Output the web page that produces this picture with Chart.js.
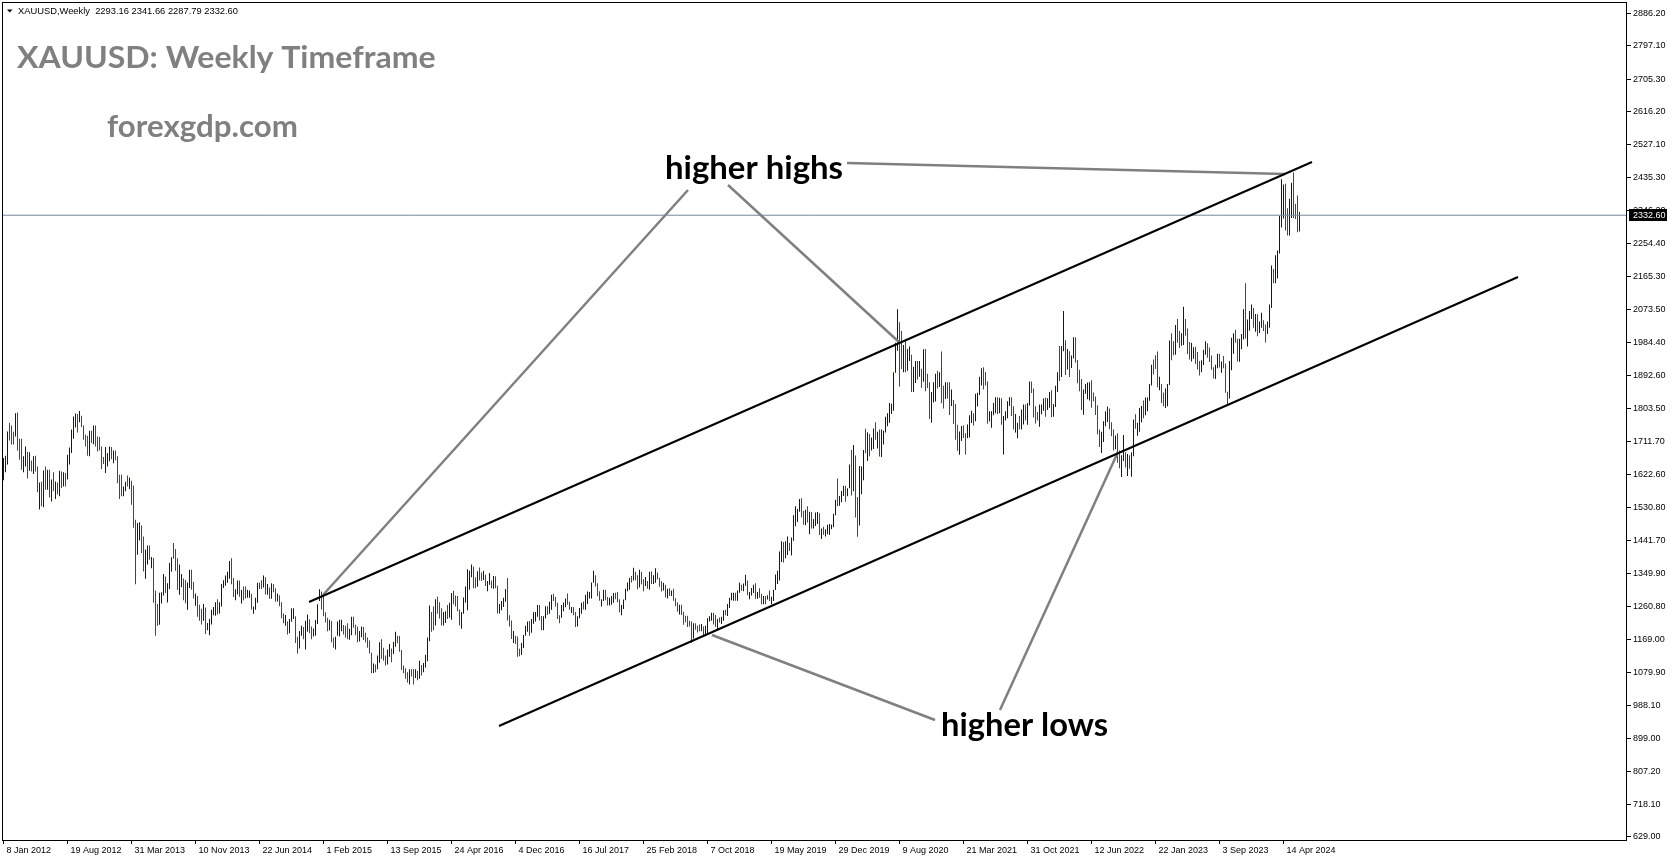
<!DOCTYPE html>
<html>
<head>
<meta charset="utf-8">
<title>XAUUSD Weekly</title>
<script src="https://cdn.jsdelivr.net/npm/chart.js@4.4.1/dist/chart.umd.min.js"></script>
<style>
    html, body { margin: 0; padding: 0; background: #fff; }
    #wrap { width: 1673px; height: 861px; }
</style>
</head>
<body>
<div id="wrap"><canvas id="goldChart" width="1673" height="861"></canvas></div>
<script>
// Weekly XAUUSD bars, first bar = week of 8 Jan 2012, one value per week
const barLows = [
    1606,1628,1649,1715,1704,1704,1726,1688,1662,1635,
    1628,1644,1611,1632,1630,1623,1630,1573,1526,1535,
    1532,1580,1580,1559,1548,1576,1555,1567,1562,1585,
    1589,1589,1608,1649,1681,1720,1751,1737,1765,1752,
    1717,1699,1673,1672,1708,1705,1699,1685,1688,1637,
    1651,1626,1644,1658,1664,1653,1661,1598,1555,1562,
    1562,1576,1589,1582,1539,1476,1321,1402,1441,1407,
    1356,1336,1375,1388,1365,1270,1180,1207,1210,1268,
    1290,1297,1271,1308,1355,1391,1358,1305,1292,1313,
    1277,1269,1251,1311,1306,1282,1262,1232,1221,1211,
    1221,1185,1195,1181,1211,1236,1235,1238,1241,1260,
    1311,1317,1325,1336,1321,1286,1277,1293,1287,1268,
    1277,1282,1284,1284,1252,1240,1251,1270,1308,1308,
    1312,1293,1292,1281,1281,1299,1273,1274,1261,1228,
    1214,1207,1183,1187,1218,1226,1160,1131,1145,1180,
    1170,1142,1191,1187,1170,1178,1180,1212,1275,1252,
    1233,1216,1192,1194,1162,1147,1142,1180,1178,1192,
    1183,1175,1170,1169,1181,1202,1181,1162,1164,1176,
    1168,1162,1147,1131,1077,1078,1080,1088,1106,1117,
    1111,1098,1101,1122,1107,1130,1150,1159,1136,1086,
    1077,1062,1052,1046,1068,1046,1064,1058,1062,1071,
    1080,1093,1110,1165,1191,1195,1208,1240,1227,1208,
    1208,1215,1226,1229,1224,1266,1260,1247,1208,1199,
    1240,1270,1250,1306,1340,1310,1310,1314,1331,1330,
    1333,1316,1302,1320,1310,1309,1310,1241,1241,1250,
    1259,1273,1222,1205,1171,1160,1157,1122,1124,1127,
    1146,1180,1191,1180,1188,1213,1219,1232,1222,1195,
    1195,1227,1237,1240,1251,1275,1260,1226,1214,1229,
    1247,1258,1265,1251,1242,1236,1204,1205,1228,1240,
    1252,1251,1267,1282,1282,1325,1315,1288,1276,1260,
    1275,1277,1263,1263,1265,1270,1280,1272,1244,1236,
    1253,1277,1302,1306,1326,1331,1332,1307,1312,1321,
    1302,1316,1309,1306,1322,1322,1325,1334,1314,1301,
    1304,1285,1282,1289,1289,1276,1261,1246,1238,1237,
    1210,1217,1204,1205,1160,1172,1196,1189,1192,1192,
    1180,1182,1183,1219,1221,1211,1204,1196,1216,1212,
    1221,1236,1234,1256,1277,1276,1276,1276,1298,1303,
    1302,1317,1291,1280,1290,1297,1281,1281,1284,1266,
    1266,1266,1279,1275,1266,1275,1305,1322,1331,1382,
    1381,1392,1401,1412,1400,1440,1480,1492,1520,1505,
    1484,1483,1490,1458,1474,1474,1481,1486,1456,1445,
    1457,1452,1458,1456,1472,1477,1510,1535,1536,1546,
    1563,1547,1562,1584,1564,1576,1504,1451,1482,1568,
    1606,1680,1659,1672,1688,1692,1717,1693,1671,1670,
    1704,1737,1754,1764,1788,1797,1901,1961,1863,1911,
    1902,1902,1906,1933,1848,1848,1873,1882,1890,1860,
    1876,1850,1859,1774,1764,1819,1822,1858,1862,1817,
    1803,1829,1830,1785,1810,1760,1717,1687,1676,1714,
    1722,1677,1721,1723,1763,1756,1768,1808,1840,1866,
    1855,1866,1761,1767,1750,1784,1790,1788,1790,1758,
    1677,1770,1776,1810,1782,1745,1737,1721,1746,1745,
    1759,1770,1758,1811,1845,1778,1762,1770,1753,1787,
    1797,1780,1799,1805,1779,1780,1807,1848,1878,1889,
    1960,1895,1910,1889,1914,1940,1929,1872,1850,1799,
    1786,1843,1828,1825,1805,1823,1785,1732,1697,1681,
    1711,1754,1766,1746,1727,1688,1691,1654,1639,1615,
    1659,1641,1618,1638,1616,1672,1747,1728,1739,1765,
    1776,1784,1795,1824,1866,1896,1911,1861,1853,1818,
    1809,1804,1809,1867,1935,1949,1950,1983,1969,1975,
    1977,2002,1952,1937,1932,1939,1925,1910,1893,1902,
    1922,1950,1942,1930,1909,1885,1884,1913,1915,1901,
    1913,1846,1810,1830,1908,1953,1983,1932,1931,1965,
    1992,1995,1973,2016,2048,2024,2013,2001,2010,2024,
    2015,1984,2007,2024,2078,2146,2146,2159,2228,2299,
    2324,2291,2277,2277,2325,2325,2322,2286,2287.79
];

const barHighs = [
    1667,1673,1740,1764,1756,1739,1790,1792,1720,1720,
    1672,1699,1684,1683,1660,1672,1673,1644,1600,1602,
    1633,1644,1635,1635,1608,1628,1603,1600,1632,1630,
    1628,1626,1676,1696,1745,1781,1789,1788,1796,1783,
    1756,1731,1728,1742,1742,1756,1756,1726,1725,1699,
    1670,1697,1681,1699,1697,1688,1688,1672,1621,1621,
    1589,1602,1619,1614,1605,1592,1498,1489,1491,1482,
    1452,1416,1427,1427,1396,1393,1304,1267,1298,1299,
    1349,1342,1324,1379,1395,1434,1418,1392,1375,1349,
    1337,1333,1326,1361,1361,1327,1296,1289,1265,1254,
    1267,1257,1215,1226,1251,1259,1272,1280,1272,1322,
    1332,1345,1355,1385,1392,1338,1307,1331,1331,1305,
    1315,1315,1306,1304,1295,1260,1284,1325,1326,1332,
    1345,1340,1322,1312,1324,1322,1310,1296,1291,1272,
    1241,1237,1219,1226,1255,1255,1233,1177,1193,1207,
    1204,1221,1238,1225,1205,1200,1223,1266,1307,1301,
    1293,1244,1229,1224,1220,1175,1177,1219,1224,1224,
    1209,1207,1214,1199,1232,1232,1210,1205,1193,1205,
    1204,1188,1175,1167,1133,1104,1101,1126,1162,1170,
    1147,1126,1142,1157,1145,1163,1191,1180,1179,1141,
    1098,1091,1080,1088,1088,1089,1088,1083,1111,1100,
    1105,1128,1175,1263,1245,1260,1280,1287,1272,1255,
    1245,1247,1264,1270,1297,1303,1290,1289,1252,1245,
    1285,1315,1362,1358,1375,1369,1340,1357,1367,1353,
    1358,1347,1330,1352,1331,1344,1343,1317,1267,1275,
    1284,1308,1338,1236,1222,1193,1180,1178,1144,1160,
    1182,1207,1219,1220,1226,1244,1245,1264,1264,1234,
    1233,1261,1261,1273,1292,1295,1286,1270,1236,1264,
    1271,1282,1296,1273,1259,1259,1245,1233,1256,1270,
    1274,1292,1301,1300,1326,1358,1346,1324,1302,1280,
    1306,1306,1286,1284,1289,1297,1298,1300,1280,1264,
    1279,1309,1326,1338,1344,1366,1355,1346,1361,1355,
    1335,1341,1330,1355,1356,1346,1365,1353,1339,1329,
    1325,1320,1309,1310,1304,1309,1283,1272,1265,1265,
    1246,1235,1235,1221,1219,1214,1214,1207,1211,1212,
    1205,1207,1228,1233,1243,1243,1237,1226,1230,1232,
    1250,1251,1267,1284,1298,1298,1298,1304,1326,1320,
    1323,1347,1331,1300,1311,1320,1324,1300,1310,1295,
    1289,1289,1291,1304,1287,1306,1348,1358,1411,1439,
    1437,1439,1452,1434,1449,1510,1535,1527,1555,1557,
    1522,1525,1535,1520,1519,1500,1518,1519,1516,1474,
    1479,1471,1484,1486,1485,1514,1553,1611,1563,1577,
    1591,1591,1584,1649,1689,1703,1674,1560,1645,1644,
    1689,1747,1738,1733,1723,1748,1765,1739,1745,1745,
    1742,1780,1790,1818,1816,1902,1983,2075,2039,2015,
    1977,1992,1966,1973,1950,1917,1933,1933,1933,1912,
    1965,1966,1898,1875,1848,1875,1898,1906,1902,1959,
    1865,1875,1875,1875,1855,1826,1815,1758,1740,1755,
    1756,1735,1759,1784,1797,1790,1843,1846,1890,1913,
    1916,1903,1877,1795,1795,1818,1834,1834,1832,1831,
    1782,1795,1823,1834,1834,1809,1788,1764,1782,1800,
    1814,1814,1818,1877,1877,1858,1809,1793,1814,1814,
    1830,1832,1831,1848,1853,1815,1865,1902,1974,1974,
    2070,1990,1966,1960,1948,1998,1998,1936,1909,1884,
    1855,1870,1874,1875,1880,1847,1836,1812,1745,1739,
    1768,1795,1808,1803,1765,1745,1729,1735,1688,1675,
    1730,1683,1678,1675,1683,1773,1787,1764,1804,1810,
    1825,1833,1833,1870,1923,1937,1949,1959,1890,1870,
    1847,1858,1870,1989,2009,1987,2032,2048,2015,2009,
    2082,2048,2022,1985,1983,1971,1972,1958,1933,1935,
    1964,1987,1982,1970,1948,1916,1923,1953,1953,1932,
    1947,1926,1849,1933,1997,2009,2019,1994,1994,2007,
    2075,2146,2047,2070,2088,2078,2062,2061,2041,2065,
    2045,2033,2041,2088,2195,2185,2223,2236,2331,2431,
    2417,2419,2352,2378,2422,2450,2364,2387,2341.66
];

// u = close above open (blue bar), d = close below open (red bar)
const barDirs = [
    'uuuddduddd','uudududdud','ududududud','uduuuuudud','dddududddd',
    'duuududddd','uududdduud','duududdduu','uduuuddduu','dduudduddd',
    'uduuuuuduu','uuuudduudu','dduuduuudd','udududdudd','duduuudduu',
    'duudduuuud','dddudduuuu','ddduuddduu','ddddduduud','dduuduuddd',
    'ddduddudud','uuuudduddd','uuduuddddu','uuuuudduddd'.slice(0, 10),'uduududduu',
    'uudddudddu','uuuduuuudd','uuduuddddu','uuddudduuu','duuuuudddu',
    'udduuudddu','uuuududdud','dududuuddd','udududddud','dddddudddu',
    'duuuuddudu','uduuuuduud','uuduuududd','ududuuuuuu','duuduuuuud',
    'dududuuudu','duuuuuuduu','uduududduu','ududuududu','uuuuuuuudd',
    'uduuduudud','uddduuudud','dudduddduu','dduuuduuuu','ddduuuudud',
    'uuuudduudu','uduudddduu','uduuduuudu','ududuudddd','uuuudddddu',
    'uuuddduddu','ududuuduuu','duuuudddud','duuudduddu','uddduudddu',
    'uudddduudu','ddduuudduu','uduuududuu','dduuuduuuu','udduudddu'
].join('');

const dateLabels = ['8 Jan 2012', '19 Aug 2012', '31 Mar 2013', '10 Nov 2013', '22 Jun 2014',
    '1 Feb 2015', '13 Sep 2015', '24 Apr 2016', '4 Dec 2016', '16 Jul 2017', '25 Feb 2018',
    '7 Oct 2018', '19 May 2019', '29 Dec 2019', '9 Aug 2020', '21 Mar 2021', '31 Oct 2021',
    '12 Jun 2022', '22 Jan 2023', '3 Sep 2023', '14 Apr 2024'];
const weeksPerLabel = 32;

const priceTicks = [2886.2, 2797.1, 2705.3, 2616.2, 2527.1, 2435.3, 2346.2, 2254.4, 2165.3,
    2073.5, 1984.4, 1892.6, 1803.5, 1711.7, 1622.6, 1530.8, 1441.7, 1349.9, 1260.8, 1169.0,
    1079.9, 988.1, 899.0, 807.2, 718.1, 629.0];

const lastPrice = 2332.60;
const headerText = 'XAUUSD,Weekly  2293.16 2341.66 2287.79 2332.60';

// Drawn objects, in (bar index, price)
const upperChannel = [{ x: 152.75, y: 1272.4 }, { x: 654.25, y: 2478.6 }];
const lowerChannel = [{ x: 247.75, y: 932.5 }, { x: 757.25, y: 2163.3 }];
const highsArrowA = [{ x: 342.25, y: 2401.8 }, { x: 159.75, y: 1291.6 }];
const highsArrowB = [{ x: 362.25, y: 2415.5 }, { x: 448.25, y: 1982.4 }];
const highsArrowC = [{ x: 421.75, y: 2475.8 }, { x: 640.75, y: 2445.7 }];
const lowsArrowA = [{ x: 354.25, y: 1181.9 }, { x: 465.75, y: 948.9 }];
const lowsArrowB = [{ x: 498.25, y: 976.3 }, { x: 557.25, y: 1683.6 }];

const upColor = '#0000d0';
const downColor = '#e60000';
const axisFont = { family: '"Liberation Sans", Arial, sans-serif', size: 9 };

function fitText(ctx, text, x, base, width, font, color) {
    ctx.font = font;
    const m = ctx.measureText(text);
    const ink = m.actualBoundingBoxLeft + m.actualBoundingBoxRight;
    const sx = width / ink;
    ctx.save();
    ctx.translate(x + m.actualBoundingBoxLeft * sx, base);
    ctx.scale(sx, 1);
    ctx.fillStyle = color;
    ctx.textAlign = 'left';
    ctx.textBaseline = 'alphabetic';
    ctx.fillText(text, 0, 0);
    ctx.restore();
}

const overlayPlugin = {
    id: 'overlay',
    beforeDraw(chart) {
        const ctx = chart.ctx;
        ctx.save();
        ctx.fillStyle = '#fff';
        ctx.fillRect(0, 0, chart.width, chart.height);
        ctx.restore();
    },
    afterDraw(chart) {
        const ctx = chart.ctx;
        const yScale = chart.scales.y;
        ctx.save();

        // chart frame
        ctx.fillStyle = '#000';
        ctx.fillRect(2, 2, 1625, 1);
        ctx.fillRect(2, 2, 1, 839);
        ctx.fillRect(1626, 2, 1, 839);
        ctx.fillRect(2, 840, 1625, 1);

        // header line
        ctx.beginPath();
        ctx.moveTo(7, 9.5);
        ctx.lineTo(12.5, 9.5);
        ctx.lineTo(9.75, 12.5);
        ctx.closePath();
        ctx.fill();
        fitText(ctx, headerText, 18, 14, 220, '9px "Liberation Sans", Arial, sans-serif', '#000');

        // current price box
        const py = Math.round(yScale.getPixelForValue(lastPrice));
        ctx.fillStyle = '#000';
        ctx.fillRect(1629, py - 6, 38, 12);
        ctx.fillStyle = '#fff';
        ctx.font = '9px "Liberation Sans", Arial, sans-serif';
        ctx.textBaseline = 'middle';
        ctx.fillText(lastPrice.toFixed(2), 1633, py + 0.5);

        // annotations
        const bigFont = 'bold 31px Lato, "Open Sans", sans-serif';
        const noteFont = 'bold 32px Lato, "Open Sans", sans-serif';
        fitText(ctx, 'XAUUSD: Weekly Timeframe', 17, 68, 418, bigFont, '#808080');
        fitText(ctx, 'forexgdp.com', 107, 137, 190, bigFont, '#808080');
        fitText(ctx, 'higher highs', 666, 179, 177, noteFont, '#000');
        fitText(ctx, 'higher lows', 942, 736, 166, noteFont, '#000');
        ctx.restore();
    }
};

function segment(points, color, width) {
    return {
        type: 'line',
        data: points,
        borderColor: color,
        borderWidth: width,
        pointRadius: 0,
        tension: 0,
        fill: false,
        order: 1
    };
}

const bars = barLows.map((lo, i) => ({ x: i, y: [lo, barHighs[i]] }));
const barColors = barLows.map((lo, i) => barDirs[i] === 'd' ? downColor : upColor);

new Chart(document.getElementById('goldChart'), {
    type: 'bar',
    data: {
        datasets: [
            {
                type: 'bar',
                data: bars,
                backgroundColor: barColors,
                borderWidth: 0,
                barThickness: 1,
                inflateAmount: 0,
                order: 3
            },
            {
                type: 'line',
                data: [{ x: -0.75, y: lastPrice }, { x: 811.75, y: lastPrice }],
                borderColor: '#778899',
                borderWidth: 1,
                pointRadius: 0,
                order: 2
            },
            segment(upperChannel, '#000', 2),
            segment(lowerChannel, '#000', 2),
            segment(highsArrowA, '#808080', 2.5),
            segment(highsArrowB, '#808080', 2.5),
            segment(highsArrowC, '#808080', 2.5),
            segment(lowsArrowA, '#808080', 2.5),
            segment(lowsArrowB, '#808080', 2.5)
        ]
    },
    options: {
        responsive: false,
        animation: false,
        devicePixelRatio: 1,
        events: [],
        layout: { padding: { left: 2, top: 3, right: 0, bottom: 0 } },
        plugins: {
            legend: { display: false },
            tooltip: { enabled: false }
        },
        scales: {
            x: {
                type: 'linear',
                min: -0.75,
                max: 811.75,
                offset: false,
                afterBuildTicks(scale) {
                    scale.ticks = dateLabels.map((l, k) => ({ value: k * weeksPerLabel }));
                },
                afterFit(scale) {
                    scale.height = 21;
                    scale.paddingLeft = 0;
                    scale.paddingRight = 0;
                },
                grid: { offset: false, drawOnChartArea: false, drawTicks: true, tickLength: 4, color: '#000' },
                border: { display: false },
                ticks: {
                    autoSkip: false,
                    maxRotation: 0,
                    align: 'start',
                    labelOffset: 3,
                    padding: 1,
                    color: '#000',
                    font: axisFont,
                    callback: (v, i) => dateLabels[i]
                }
            },
            y: {
                type: 'linear',
                position: 'right',
                min: 619.95,
                max: 2914.44,
                afterBuildTicks(scale) {
                    scale.ticks = priceTicks.map(v => ({ value: v }));
                },
                afterFit(scale) {
                    scale.width = 46;
                    scale.paddingTop = 0;
                    scale.paddingBottom = 0;
                },
                grid: { drawOnChartArea: false, drawTicks: true, tickLength: 4, color: '#000' },
                border: { display: false },
                ticks: {
                    padding: 2,
                    color: '#000',
                    font: axisFont,
                    callback: v => v.toFixed(2)
                }
            }
        }
    },
    plugins: [overlayPlugin]
});
</script>
</body>
</html>
